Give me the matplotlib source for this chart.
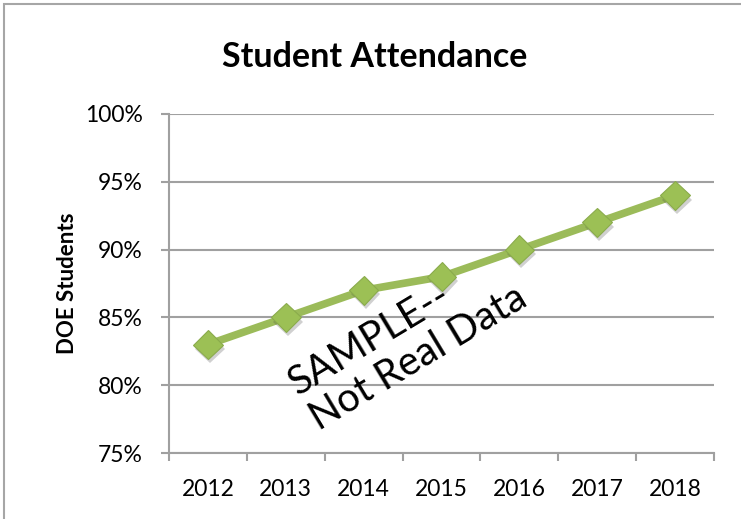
import matplotlib
matplotlib.use("Agg")
import matplotlib.pyplot as plt
import matplotlib.patheffects as pe
from matplotlib.patches import Rectangle

years = ["2012", "2013", "2014", "2015", "2016", "2017", "2018"]
attendance = [83, 85, 87, 88, 90, 92, 94]
y_ticks = [75, 80, 85, 90, 95, 100]

W, H = 741, 519
plt.rcParams["font.family"] = ["Lato", "DejaVu Sans"]

fig = plt.figure(figsize=(W / 100, H / 100), dpi=100)

# chart border (Excel style)
fig.patches.append(Rectangle((4 / W, -0.1), 1.2, 1 - 4 / H + 0.1, transform=fig.transFigure,
                             fill=False, edgecolor="#a6a6a6", linewidth=1.5))

ax = fig.add_axes([169 / W, (H - 453) / H, (714 - 169) / W, (453 - 114) / H])

x = list(range(len(years)))
ax.plot(x, attendance, color="#9bbb59", linewidth=5.5, solid_capstyle="butt", zorder=3)
ax.plot(x, attendance, linestyle="none", marker="D", markersize=15,
        markerfacecolor="#9cc055", markeredgecolor="#8aab4c", markeredgewidth=0.8, zorder=4,
        path_effects=[pe.SimplePatchShadow(offset=(1.5, -3), alpha=0.25, shadow_rgbFace="#444444"), pe.Normal()])

ax.set_ylim(75, 100)
ax.set_xlim(-0.5, len(years) - 0.5)
ax.set_yticks(y_ticks)
ax.set_yticklabels([f"{v}%" for v in y_ticks])
ax.set_xticks(x)
ax.set_xticklabels(years)
ax.set_xticks([i - 0.5 for i in range(len(years) + 1)], minor=True)

ax.tick_params(axis="x", which="major", length=0, pad=19, labelsize=16.5)
ax.tick_params(axis="x", which="minor", length=6, width=1.5, color="#a0a0a0", direction="out")
ax.tick_params(axis="y", length=6, width=1.5, color="#a0a0a0", pad=13, labelsize=16.5)

ax.grid(axis="y", color="#a0a0a0", linewidth=1.5)
ax.set_axisbelow(True)
for s in ["top", "right"]:
    ax.spines[s].set_visible(False)
for s in ["left", "bottom"]:
    ax.spines[s].set_color("#a0a0a0")
    ax.spines[s].set_linewidth(1.5)

ax.set_ylabel("DOE Students", fontsize=16, fontweight="bold", labelpad=5)

fig.text(375 / W, 1 - 57 / H, "Student Attendance", ha="center", va="center",
         fontsize=24.5, fontweight="bold")

# watermark
fig.text(408 / W, 1 - 340 / H, "SAMPLE--\nNot Real Data", ha="center", va="center",
         multialignment="left", fontsize=28.5, rotation=31, linespacing=1.12,
         rotation_mode="anchor")

fig.savefig("out.png", dpi=100)
